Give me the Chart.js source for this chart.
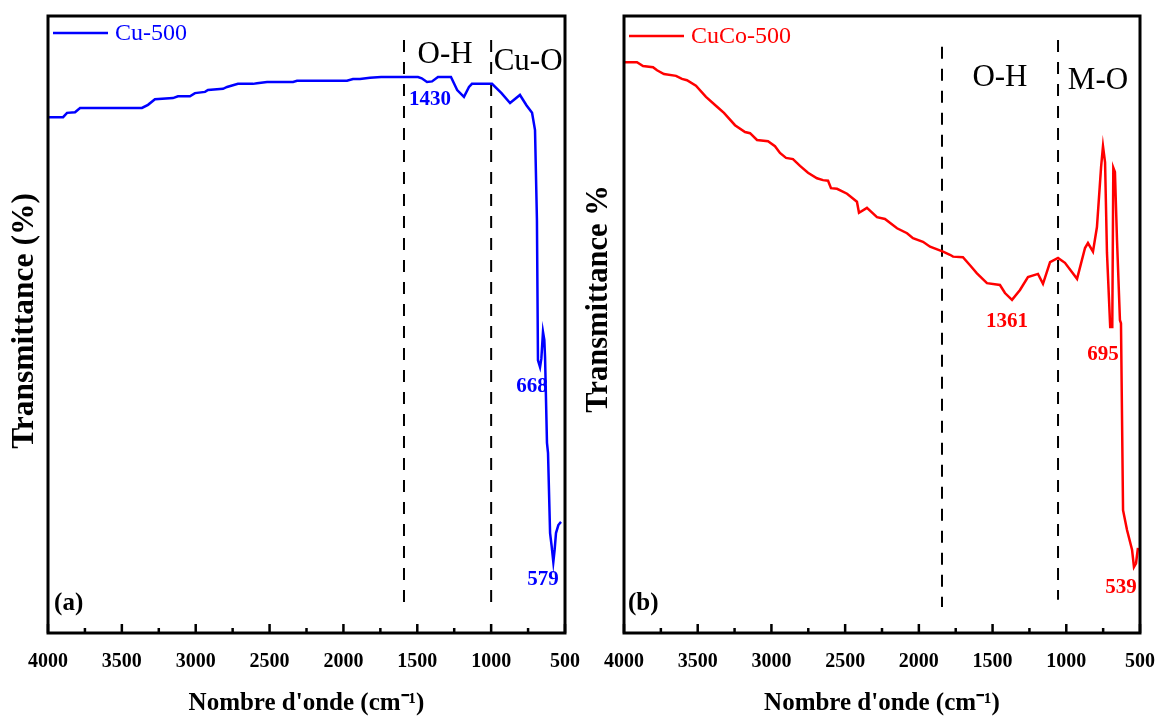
<!DOCTYPE html>
<html>
<head>
<meta charset="utf-8">
<script src="https://cdn.jsdelivr.net/npm/chart.js@4.4.0/dist/chart.umd.min.js"></script>
<style>
html,body{margin:0;padding:0;background:#fff;}
#wrap{position:relative;width:1156px;height:717px;background:#fff;}
#c1{position:absolute;left:0;top:0;}
#c2{position:absolute;left:580px;top:0;}
</style>
</head>
<body>
<div id="wrap">
<canvas id="c1" width="580" height="717"></canvas>
<canvas id="c2" width="576" height="717"></canvas>
</div>
<script>
// ---------- DATA ----------
const xTickValues = [4000, 3500, 3000, 2500, 2000, 1500, 1000, 500];
const xMinorTicks = [3750, 3250, 2750, 2250, 1750, 1250, 750];
const xTitle = "Nombre d'onde (cm\u207B\u00B9)";

// Panel (a): Cu-500
const cuLabel = "Cu-500";
const cuWavenumber = [4000, 3986, 3898, 3871, 3817, 3783, 3716, 3364, 3323, 3276,
  3154, 3120, 3039, 3005, 2937, 2917, 2815, 2788, 2714, 2612,
  2585, 2517, 2341, 2314, 1976, 1935, 1888, 1820, 1745, 1495,
  1470, 1434, 1400, 1360, 1272, 1230, 1184, 1150, 1130, 994,
  930, 872, 805, 760, 723, 703, 690, 683, 669, 660,
  649, 640, 635, 622, 615, 601, 590, 579, 570, 561,
  545, 527];
const cuTransmittance = [83.6, 83.6, 83.6, 84.3, 84.4, 85.1, 85.1, 85.1, 85.6, 86.5,
  86.7, 87.0, 87.0, 87.5, 87.7, 88.0, 88.2, 88.5, 89.0, 89.0,
  89.1, 89.3, 89.3, 89.5, 89.5, 89.8, 89.8, 90.0, 90.1, 90.1,
  89.9, 89.3, 89.4, 90.1, 90.1, 88.0, 86.9, 88.5, 89.0, 89.0,
  87.5, 85.9, 87.2, 85.5, 84.3, 81.5, 66.9, 44.2, 43.1, 44.5,
  48.8, 47.5, 44.7, 30.8, 29.2, 16.2, 14.0, 11.5, 13.5, 16.2,
  17.5, 18.0];
const cuBandLines = [1590, 1000];
const cuBandTop = [96.1, 96.1];
const cuBandBottom = [4.9, 4.9];
const cuBandNames = ["O-H", "Cu-O"];
const cuPeaks = ["1430", "668", "579"];

// Panel (b): CuCo-500
const cucoLabel = "CuCo-500";
const cucoWavenumber = [4000, 3993, 3912, 3871, 3803, 3776, 3729, 3647, 3607, 3573,
  3512, 3444, 3369, 3322, 3247, 3179, 3145, 3098, 3023, 2976,
  2942, 2901, 2854, 2806, 2752, 2691, 2650, 2616, 2596, 2555,
  2487, 2420, 2406, 2352, 2284, 2230, 2148, 2080, 2040, 1972,
  1924, 1836, 1789, 1768, 1701, 1653, 1606, 1538, 1450, 1416,
  1368, 1314, 1260, 1192, 1158, 1110, 1056, 1009, 927, 873,
  853, 819, 792, 764, 751, 737, 724, 702, 688, 681,
  670, 656, 636, 629, 615, 588, 554, 541, 527, 514];
const cucoTransmittance = [92.5, 92.5, 92.5, 91.9, 91.7, 91.2, 90.6, 90.3, 89.8, 89.6,
  88.7, 86.9, 85.3, 84.3, 82.3, 81.2, 81.0, 79.9, 79.7, 78.9,
  77.8, 77.0, 76.8, 75.7, 74.6, 73.7, 73.4, 73.3, 72.1, 72.0,
  71.2, 69.9, 68.1, 68.9, 67.4, 67.1, 65.6, 64.8, 64.0, 63.4,
  62.6, 61.8, 61.3, 61.0, 60.9, 59.6, 58.3, 56.7, 56.4, 55.1,
  54.0, 55.6, 57.7, 58.2, 56.6, 60.1, 60.8, 60.0, 57.4, 62.4,
  63.2, 61.8, 65.8, 75.5, 78.9, 76.3, 61.6, 49.6, 49.6, 75.4,
  74.7, 63.7, 50.7, 50.2, 19.9, 16.7, 13.5, 10.7, 11.3, 13.8];
const cucoBandLines = [1843, 1056];
const cucoBandTop = [95.0, 96.1];
const cucoBandBottom = [4.2, 5.4];
const cucoBandNames = ["O-H", "M-O"];
const cucoPeaks = ["1361", "695", "539"];

// ---------- HELPERS ----------
const SERIF = '"Liberation Serif", "Times New Roman", serif';
function pts(xs, ys) { return xs.map((v, i) => ({x: v, y: ys[i]})); }

const panelPlugin = {
  id: 'panel',
  afterDraw(chart, _args, o) {
    const {ctx, chartArea: a, scales: {x, y}} = chart;
    ctx.save();
    // inward tick marks
    ctx.strokeStyle = '#000';
    ctx.lineWidth = 2.5;
    ctx.beginPath();
    xTickValues.forEach(v => {
      const px = x.getPixelForValue(v);
      ctx.moveTo(px, a.bottom); ctx.lineTo(px, a.bottom - 9);
    });
    xMinorTicks.forEach(v => {
      const px = x.getPixelForValue(v);
      ctx.moveTo(px, a.bottom); ctx.lineTo(px, a.bottom - 5);
    });
    ctx.stroke();
    // frame
    ctx.lineWidth = 3;
    ctx.strokeRect(a.left, a.top, a.right - a.left, a.bottom - a.top);
    // legend
    const ly = a.top + o.legendDy;
    ctx.strokeStyle = o.color;
    ctx.lineWidth = 2.5;
    ctx.beginPath();
    ctx.moveTo(a.left + 5, ly); ctx.lineTo(a.left + 60, ly);
    ctx.stroke();
    ctx.fillStyle = o.color;
    ctx.font = '24px ' + SERIF;
    ctx.textAlign = 'left';
    ctx.textBaseline = 'middle';
    ctx.fillText(o.legendText, a.left + 67, ly + 1);
    // annotations
    o.notes.forEach(n => {
      ctx.font = n.font;
      ctx.fillStyle = n.color;
      ctx.textAlign = n.align || 'center';
      ctx.textBaseline = 'middle';
      ctx.fillText(n.text, x.getPixelForValue(n.x), y.getPixelForValue(n.y));
    });
    // y title
    ctx.save();
    ctx.translate(o.yTitleX, o.yTitleY);
    ctx.rotate(-Math.PI / 2);
    ctx.font = 'bold ' + o.yTitleSize + 'px ' + SERIF;
    ctx.fillStyle = '#000';
    ctx.textAlign = 'center';
    ctx.textBaseline = 'middle';
    ctx.fillText(o.yTitle, 0, 0);
    ctx.restore();
    ctx.restore();
  }
};

function makeChart(id, c) {
  const datasets = [{
    label: c.label,
    data: pts(c.xs, c.ys),
    borderColor: c.color,
    borderWidth: 2.5,
    pointRadius: 0,
    tension: 0,
    fill: false
  }];
  c.bands.forEach((b, i) => {
    datasets.push({
      label: c.bandNames[i],
      data: [{x: b, y: c.bandTop[i]}, {x: b, y: c.bandBottom[i]}],
      borderColor: '#000',
      borderWidth: 2,
      borderDash: [12, 10],
      pointRadius: 0,
      fill: false
    });
  });
  return new Chart(document.getElementById(id), {
    type: 'line',
    data: {datasets},
    plugins: [panelPlugin],
    options: {
      responsive: false,
      animation: false,
      layout: {padding: {top: 16, right: c.padRight, left: 0, bottom: 0}},
      plugins: {
        legend: {display: false},
        tooltip: {enabled: false},
        panel: {
          color: c.color, legendText: c.label, legendDy: c.legendDy,
          notes: c.notes, yTitle: c.yTitle, yTitleX: c.yTitleX, yTitleY: c.yTitleY,
          yTitleSize: c.yTitleSize
        }
      },
      scales: {
        x: {
          type: 'linear', reverse: true, min: 500, max: 4000,
          afterBuildTicks: s => { s.ticks = xTickValues.map(v => ({value: v})); },
          grid: {display: false, drawTicks: false},
          border: {display: false},
          ticks: {
            padding: 17, color: '#000', autoSkip: false, maxRotation: 0,
            font: {family: SERIF, weight: 'bold', size: 20},
            callback: v => String(v)
          },
          title: {
            display: true, text: xTitle, color: '#000',
            font: {family: SERIF, weight: 'bold', size: 25, lineHeight: 1},
            padding: {top: 0, bottom: 1}
          },
          afterFit: s => { s.height = 84; s.paddingRight = c.padRight; s.paddingLeft = 0; }
        },
        y: {
          min: 0, max: 100,
          ticks: {display: false},
          grid: {display: false, drawTicks: false},
          border: {display: false},
          title: {display: false, text: c.yTitle},
          afterFit: s => { s.width = c.yWidth; }
        }
      }
    }
  });
}

const boldNote = 'bold 21px ' + SERIF;
const bandNote = '31px ' + SERIF;
const panelNote = 'bold 25px ' + SERIF;

makeChart('c1', {
  label: cuLabel, color: '#0000FF', xs: cuWavenumber, ys: cuTransmittance,
  bands: cuBandLines, bandTop: cuBandTop, bandBottom: cuBandBottom, bandNames: cuBandNames,
  padRight: 15, yWidth: 48, legendDy: 17,
  yTitle: 'Transmittance (%)', yTitleX: 25, yTitleY: 321, yTitleSize: 31.5,
  notes: [
    {text: cuPeaks[0], x: 1414, y: 86.4, font: boldNote, color: '#0000FF'},
    {text: cuPeaks[1], x: 723, y: 39.9, font: boldNote, color: '#0000FF'},
    {text: cuPeaks[2], x: 649, y: 8.6, font: boldNote, color: '#0000FF'},
    {text: cuBandNames[0], x: 1312, y: 93.7, font: bandNote, color: '#000'},
    {text: cuBandNames[1], x: 750, y: 92.5, font: bandNote, color: '#000'},
    {text: '(a)', x: 3959, y: 4.7, font: panelNote, color: '#000', align: 'left'}
  ]
});

makeChart('c2', {
  label: cucoLabel, color: '#FF0000', xs: cucoWavenumber, ys: cucoTransmittance,
  bands: cucoBandLines, bandTop: cucoBandTop, bandBottom: cucoBandBottom, bandNames: cucoBandNames,
  padRight: 16, yWidth: 44, legendDy: 20,
  yTitle: 'Transmittance %', yTitleX: 19, yTitleY: 299, yTitleSize: 30.5,
  notes: [
    {text: cucoPeaks[0], x: 1402, y: 50.4, font: boldNote, color: '#FF0000'},
    {text: cucoPeaks[1], x: 751, y: 45.1, font: boldNote, color: '#FF0000'},
    {text: cucoPeaks[2], x: 629, y: 7.3, font: boldNote, color: '#FF0000'},
    {text: cucoBandNames[0], x: 1450, y: 90.0, font: bandNote, color: '#000'},
    {text: cucoBandNames[1], x: 785, y: 89.5, font: bandNote, color: '#000'},
    {text: '(b)', x: 3973, y: 4.7, font: panelNote, color: '#000', align: 'left'}
  ]
});
</script>
</body>
</html>
